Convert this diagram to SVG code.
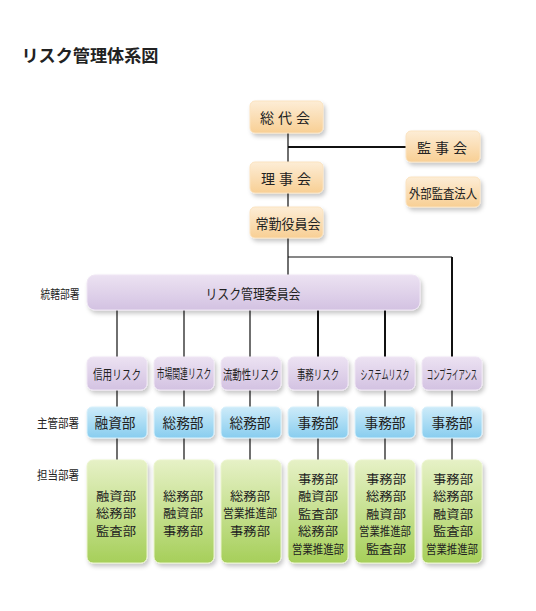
<svg xmlns="http://www.w3.org/2000/svg" width="536" height="611" viewBox="0 0 536 611">
<defs>
<linearGradient id="gOr" x1="0" y1="0" x2="0" y2="1"><stop offset="0" stop-color="#fdedd6"/><stop offset="1" stop-color="#f8cf94"/></linearGradient>
<linearGradient id="gPu" x1="0" y1="0" x2="0" y2="1"><stop offset="0" stop-color="#ece2f2"/><stop offset="1" stop-color="#d3c2e2"/></linearGradient>
<linearGradient id="gBl" x1="0" y1="0" x2="0" y2="1"><stop offset="0" stop-color="#cdebf9"/><stop offset="1" stop-color="#88cdef"/></linearGradient>
<linearGradient id="gGr" x1="0" y1="0" x2="0" y2="1"><stop offset="0" stop-color="#e6f1c6"/><stop offset="1" stop-color="#a6cf5a"/></linearGradient>
<filter id="sh" x="-20%" y="-20%" width="140%" height="150%"><feDropShadow dx="2" dy="3" stdDeviation="2" flood-color="#000" flood-opacity="0.22"/></filter>
</defs>
<style>
text{font-family:"Noto Sans CJK JP","Noto Sans CJK SC",sans-serif;fill:#222;text-anchor:middle;dominant-baseline:central;}
.or{fill:url(#gOr);stroke:#fbe3c0;stroke-width:1;filter:url(#sh);}
.pu{fill:url(#gPu);stroke:#efe6f4;stroke-width:1;filter:url(#sh);}
.bl{fill:url(#gBl);stroke:#d8f0fb;stroke-width:1;filter:url(#sh);}
.gr{fill:url(#gGr);stroke:#eaf4cc;stroke-width:1;filter:url(#sh);}
.t14{font-size:14px;}
.t13{font-size:13px;}
.t12{font-size:12px;}
.lab{font-size:12px;}
.ln{stroke:#111;fill:none;stroke-width:1.2;}
.lt{stroke:#111;fill:none;stroke-width:2;}
</style>
<rect width="536" height="611" fill="#fff"/>
<text x="90" y="54" style="font-size:17px;font-weight:bold" textLength="137" lengthAdjust="spacingAndGlyphs">リスク管理体系図</text>

<g id="connectors">
<path class="ln" d="M288 133V162M288 193V207M288 238V275"/>
<path class="lt" d="M288 147H406"/>
<path class="ln" d="M288 257H452"/>
<path class="lt" d="M452 257V357"/>
<path class="ln" d="M117 310V357M184 310V357M250 310V357"/>
<path class="lt" d="M318 310V357M385 310V357"/>
<path class="ln" d="M117 390V407M184 390V407M250 390V407M318 390V407M385 390V407M452 390V407"/>
<path class="ln" d="M117 438V460M184 438V460M250 438V460M318 438V460M385 438V460M452 438V460"/>
</g>

<g id="soudaikai"><rect class="or" x="250" y="101" width="73" height="32" rx="5"/><text class="t14" x="287" y="117" letter-spacing="4">総代会</text></g>
<g id="kanjikai"><rect class="or" x="406" y="131" width="74" height="31" rx="5"/><text class="t14" x="444" y="147" letter-spacing="4">監事会</text></g>
<g id="rijikai"><rect class="or" x="250" y="162" width="73" height="31" rx="5"/><text class="t14" x="288" y="178" letter-spacing="4">理事会</text></g>
<g id="gaibu"><rect class="or" x="406" y="177" width="74" height="30" rx="5"/><text class="t13" x="443" y="192" textLength="68" lengthAdjust="spacingAndGlyphs">外部監査法人</text></g>
<g id="joukin"><rect class="or" x="250" y="207" width="73" height="31" rx="5"/><text class="t14" x="288" y="223" textLength="65" lengthAdjust="spacingAndGlyphs">常勤役員会</text></g>

<g id="label-toukatsu"><text class="lab" x="60" y="293" textLength="39" lengthAdjust="spacingAndGlyphs">統轄部署</text></g>
<g id="iinkai"><rect class="pu" x="87" y="275" width="333" height="35" rx="8"/><text class="t14" x="253" y="293" textLength="95" lengthAdjust="spacingAndGlyphs">リスク管理委員会</text></g>

<g id="r1"><rect class="pu" x="87" y="357" width="60" height="33" rx="6"/><text class="t13" transform="translate(117 373) scale(0.74 1)">信用リスク</text></g>
<g id="r2"><rect class="pu" x="154" y="357" width="60" height="33" rx="6"/><text class="t13" transform="translate(184 373) scale(0.6 1)">市場関連リスク</text></g>
<g id="r3"><rect class="pu" x="221" y="357" width="60" height="33" rx="6"/><text class="t13" transform="translate(251 373) scale(0.72 1)">流動性リスク</text></g>
<g id="r4"><rect class="pu" x="288" y="357" width="60" height="33" rx="6"/><text class="t13" transform="translate(318 373) scale(0.65 1)">事務リスク</text></g>
<g id="r5"><rect class="pu" x="355" y="357" width="60" height="33" rx="6"/><text class="t13" transform="translate(385 373) scale(0.54 1)">システムリスク</text></g>
<g id="r6"><rect class="pu" x="422" y="357" width="60" height="33" rx="6"/><text class="t13" transform="translate(452 373) scale(0.49 1)">コンプライアンス</text></g>

<g id="label-shukan"><text class="lab" x="58" y="422" textLength="42" lengthAdjust="spacingAndGlyphs">主管部署</text></g>
<g id="b1"><rect class="bl" x="87" y="407" width="60" height="31" rx="5"/><text class="t14" x="115" y="422" textLength="41" lengthAdjust="spacingAndGlyphs">融資部</text></g>
<g id="b2"><rect class="bl" x="154" y="407" width="60" height="31" rx="5"/><text class="t14" x="183" y="422" textLength="41" lengthAdjust="spacingAndGlyphs">総務部</text></g>
<g id="b3"><rect class="bl" x="221" y="407" width="60" height="31" rx="5"/><text class="t14" x="250" y="422" textLength="41" lengthAdjust="spacingAndGlyphs">総務部</text></g>
<g id="b4"><rect class="bl" x="288" y="407" width="60" height="31" rx="5"/><text class="t14" x="318" y="422" textLength="41" lengthAdjust="spacingAndGlyphs">事務部</text></g>
<g id="b5"><rect class="bl" x="355" y="407" width="60" height="31" rx="5"/><text class="t14" x="385" y="422" textLength="41" lengthAdjust="spacingAndGlyphs">事務部</text></g>
<g id="b6"><rect class="bl" x="422" y="407" width="60" height="31" rx="5"/><text class="t14" x="452" y="422" textLength="41" lengthAdjust="spacingAndGlyphs">事務部</text></g>

<g id="label-tantou"><text class="lab" x="58" y="474" textLength="42" lengthAdjust="spacingAndGlyphs">担当部署</text></g>
<g id="g1"><rect class="gr" x="87" y="460" width="60" height="103" rx="6"/>
<text class="t12" x="116" y="495" textLength="40" lengthAdjust="spacingAndGlyphs">融資部</text>
<text class="t12" x="116" y="512.5" textLength="40" lengthAdjust="spacingAndGlyphs">総務部</text>
<text class="t12" x="116" y="530" textLength="40" lengthAdjust="spacingAndGlyphs">監査部</text></g>
<g id="g2"><rect class="gr" x="154" y="460" width="60" height="103" rx="6"/>
<text class="t12" x="183" y="495" textLength="40" lengthAdjust="spacingAndGlyphs">総務部</text>
<text class="t12" x="183" y="512.5" textLength="40" lengthAdjust="spacingAndGlyphs">融資部</text>
<text class="t12" x="183" y="530" textLength="40" lengthAdjust="spacingAndGlyphs">事務部</text></g>
<g id="g3"><rect class="gr" x="221" y="460" width="60" height="103" rx="6"/>
<text class="t12" x="250" y="495" textLength="40" lengthAdjust="spacingAndGlyphs">総務部</text>
<text class="t12" x="250" y="512.5" textLength="54" lengthAdjust="spacingAndGlyphs">営業推進部</text>
<text class="t12" x="250" y="530" textLength="40" lengthAdjust="spacingAndGlyphs">事務部</text></g>
<g id="g4"><rect class="gr" x="288" y="460" width="60" height="103" rx="6"/>
<text class="t12" x="318" y="478" textLength="40" lengthAdjust="spacingAndGlyphs">事務部</text>
<text class="t12" x="318" y="495.5" textLength="40" lengthAdjust="spacingAndGlyphs">融資部</text>
<text class="t12" x="318" y="513" textLength="40" lengthAdjust="spacingAndGlyphs">監査部</text>
<text class="t12" x="318" y="530.5" textLength="40" lengthAdjust="spacingAndGlyphs">総務部</text>
<text class="t12" x="318" y="548" textLength="52" lengthAdjust="spacingAndGlyphs">営業推進部</text></g>
<g id="g5"><rect class="gr" x="355" y="460" width="60" height="103" rx="6"/>
<text class="t12" x="386" y="478" textLength="40" lengthAdjust="spacingAndGlyphs">事務部</text>
<text class="t12" x="386" y="495.5" textLength="40" lengthAdjust="spacingAndGlyphs">総務部</text>
<text class="t12" x="386" y="513" textLength="40" lengthAdjust="spacingAndGlyphs">融資部</text>
<text class="t12" x="385" y="530.5" textLength="52" lengthAdjust="spacingAndGlyphs">営業推進部</text>
<text class="t12" x="386" y="548" textLength="40" lengthAdjust="spacingAndGlyphs">監査部</text></g>
<g id="g6"><rect class="gr" x="422" y="460" width="60" height="103" rx="6"/>
<text class="t12" x="453" y="478" textLength="40" lengthAdjust="spacingAndGlyphs">事務部</text>
<text class="t12" x="453" y="495.5" textLength="40" lengthAdjust="spacingAndGlyphs">総務部</text>
<text class="t12" x="453" y="513" textLength="40" lengthAdjust="spacingAndGlyphs">融資部</text>
<text class="t12" x="453" y="530.5" textLength="40" lengthAdjust="spacingAndGlyphs">監査部</text>
<text class="t12" x="452" y="548" textLength="52" lengthAdjust="spacingAndGlyphs">営業推進部</text></g>
</svg>
